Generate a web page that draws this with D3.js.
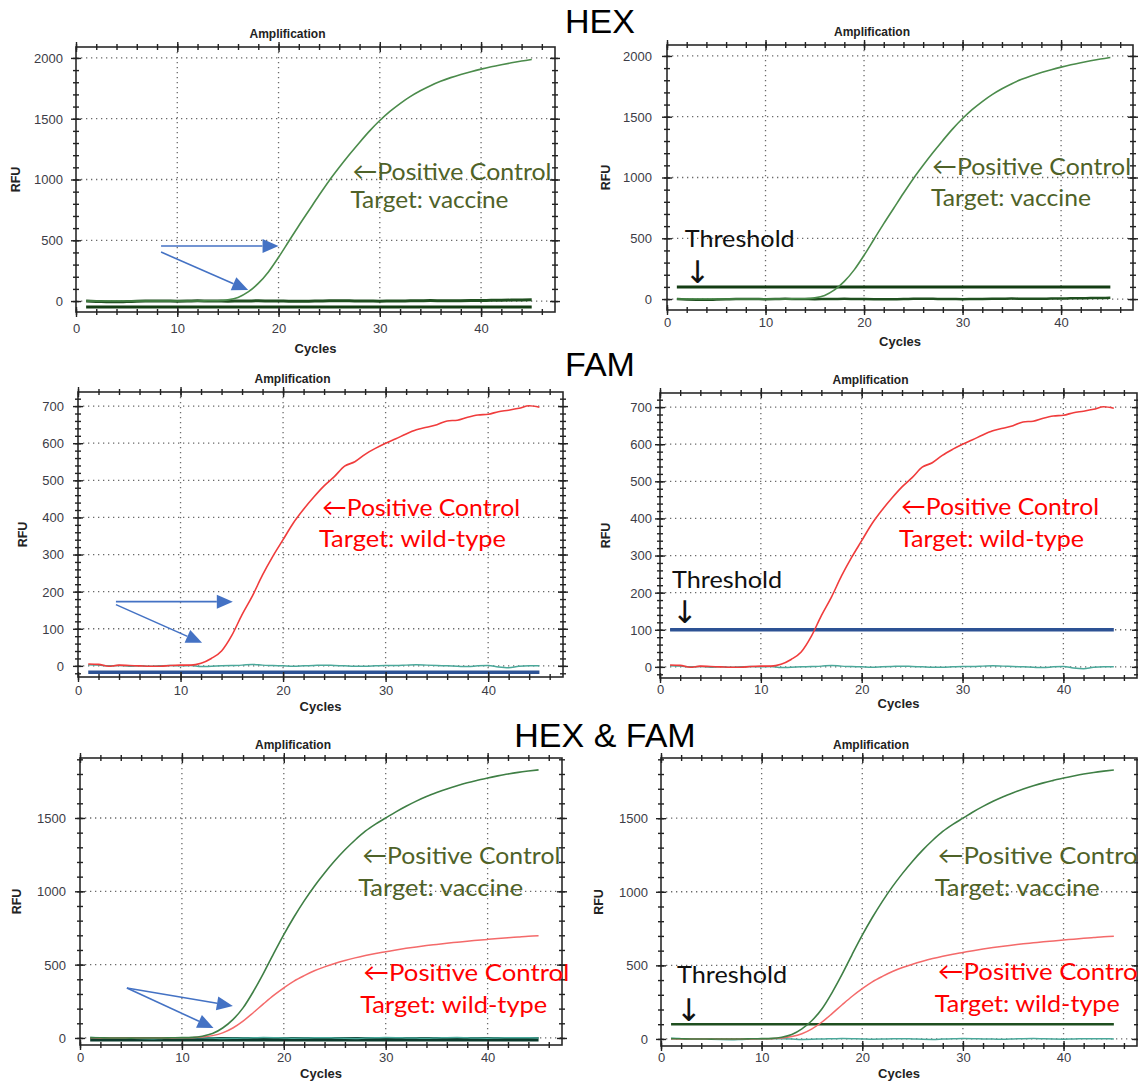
<!DOCTYPE html>
<html><head><meta charset="utf-8">
<script src="https://cdn.jsdelivr.net/npm/d3@7"></script>
<style>body{margin:0;background:#fff}svg{display:block}</style>
</head><body>
<svg id="chart" width="1138" height="1082"></svg>
<script>
// ---------------- DATA ----------------
const cycles = [1,2,3,4,5,6,7,8,9,10,11,12,13,14,15,16,17,18,19,20,21,22,23,24,25,26,27,28,29,30,31,32,33,34,35,36,37,38,39,40,41,42,43,44,45];
const xTicks = [0,10,20,30,40];
const hexYTicks = [0,500,1000,1500,2000];
const famYTicks = [0,100,200,300,400,500,600,700];
const duoYTicks = [0,500,1000,1500];
const headings = ["HEX","FAM","HEX & FAM"];

// HEX channel, positive control (target: vaccine)
const hexPositive = [0,0,0,0,0,0,0,0,1,1,1,1,2,3,10,30,75,145,240,360,490,620,745,870,990,1100,1205,1305,1400,1485,1560,1625,1682,1730,1772,1808,1838,1864,1887,1908,1927,1944,1960,1975,1988];
// HEX channel, negative samples
const hexNegative = [0,-3,-5,-6,-4,-2,0,1,0,-1,0,2,1,0,-1,0,1,2,1,0,-1,-2,-1,0,2,3,2,1,0,-1,0,1,2,3,4,3,2,3,4,5,6,7,8,9,10];
// FAM channel, positive control (target: wild-type)
const famPositive = [5,4,-1,2,1,0,-1,-1,1,2,2,7,20,40,82,138,188,245,295,340,385,422,455,485,510,538,550,570,586,600,612,625,636,643,650,660,662,670,676,678,685,689,694,701,697];
// FAM channel, negative samples
const famNegative = [3,2,0,1,-1,0,-1,0,1,0,1,-2,-1,0,1,2,4,2,1,0,-1,0,1,2,1,0,-1,-1,0,1,1,2,3,2,1,0,-1,-2,0,1,-3,-5,-1,0,0];
// HEX & FAM duplex
const duoVaccine = [2,1,0,0,-1,0,0,0,1,2,4,12,30,68,125,205,315,440,575,705,825,935,1035,1125,1208,1283,1350,1410,1458,1500,1542,1580,1615,1646,1673,1698,1720,1740,1757,1773,1787,1800,1811,1820,1828];
const duoWildType = [1,0,0,-1,0,0,-1,0,0,1,2,6,16,35,68,115,172,232,290,342,388,425,458,485,508,528,546,562,576,588,600,611,621,630,638,646,653,660,666,672,678,684,689,694,697];
const duoNegative = [4,2,1,0,-2,-4,-5,-3,-1,0,2,1,-1,-3,-2,0,1,3,2,0,-2,-1,1,2,0,-2,-3,-1,1,3,2,0,-1,-2,0,2,3,1,-1,-2,0,1,2,1,0];
// threshold levels [left panel, right panel]
const hexThreshold = [-48, 100];
const famThreshold = [-17, 100];
const duoThreshold = [-9, 100];

// ---------------- LAYOUT ----------------
const svg = d3.select("#chart");
const xDomain = [0, 47.3];
const TICK_FONT = "'Liberation Sans', Arial, sans-serif";
const ANN_FONT = "Lato, 'DejaVu Sans', sans-serif";
const C = {
  green:"#4b8b4b", green2:"#3f7f45", dkgreen:"#1f4f1f", dkgreen2:"#143d14",
  red:"#f03c3c", red2:"#f46a6a", teal:"#4aa89a", blue:"#2d5294",
  arrow:"#4472c4", txtGreen:"#4f6228", txtRed:"#ff0000"
};

const S = (values, color, width) => ({values, color, width});
const T = (level, color, width) => ({values: cycles.map(() => level), color, width});

const panels = [
  {L:76,R:555,T:47,B:312, yDom:[-90,2090], yTicks:hexYTicks, minorY:100, labGap:13, xlabDy:12, cycDy:41, rfuDx:-60,
   series:[S(hexNegative,C.dkgreen,3), T(hexThreshold[0],C.dkgreen2,3), S(hexPositive,C.green,1.6)],
   texts:[{t:"←Positive Control",x:27.3,y:996,c:C.txtGreen,w:199},{t:"Target: vaccine",x:27.1,y:765,c:C.txtGreen,w:158}],
   arrows:[[8.4,453,20.0,453],[8.4,403,17.0,90]]},
  {L:667,R:1133,T:45,B:310, yDom:[-90,2090], yTicks:hexYTicks, minorY:100, labGap:15, xlabDy:8, cycDy:36, rfuDx:-61,
   series:[S(hexNegative,C.dkgreen,2.5), T(hexThreshold[1],C.dkgreen2,3), S(hexPositive,C.green,1.6)],
   texts:[{t:"←Positive Control",x:26.9,y:1017,c:C.txtGreen,w:199},{t:"Target: vaccine",x:26.8,y:769,c:C.txtGreen,w:160},
          {t:"Threshold",x:1.8,y:430,c:"#111",w:110}],
   down:{x:1.8,y:135}, arrows:[]},
  {L:78,R:563,T:392,B:677, yDom:[-30,738], yTicks:famYTicks, minorY:20, labGap:14, xlabDy:9, cycDy:34, rfuDx:-55,
   series:[S(famNegative,C.teal,1.5), T(famThreshold[0],C.blue,3.5), S(famPositive,C.red,1.6)],
   texts:[{t:"←Positive Control",x:23.8,y:403,c:C.txtRed,w:198},{t:"Target: wild-type",x:23.5,y:319,c:C.txtRed,w:187}],
   arrows:[[3.7,173,15.1,173],[3.7,165,12.1,62]]},
  {L:660,R:1137,T:393,B:678, yDom:[-30,738], yTicks:famYTicks, minorY:20, labGap:8, xlabDy:7, cycDy:30, rfuDx:-54,
   series:[S(famNegative,C.teal,1.5), T(famThreshold[1],C.blue,3.5), S(famPositive,C.red,1.6)],
   texts:[{t:"←Positive Control",x:23.9,y:408,c:C.txtRed,w:198},{t:"Target: wild-type",x:23.7,y:323,c:C.txtRed,w:185},
          {t:"Threshold",x:1.2,y:213,c:"#111",w:110}],
   down:{x:1.2,y:118}, arrows:[]},
  {L:80,R:562,T:758,B:1045, yDom:[-48,1909], yTicks:duoYTicks, minorY:100, labGap:14, xlabDy:8, cycDy:33, rfuDx:-63,
   series:[T(duoThreshold[0],"#0d3a2c",4.5), S(duoNegative,C.teal,1.5), S(duoWildType,C.red2,1.5), S(duoVaccine,C.green2,1.6)],
   texts:[{t:"←Positive Control",x:27.7,y:1187,c:C.txtGreen,w:198},{t:"Target: vaccine",x:27.3,y:969,c:C.txtGreen,w:165},
          {t:"←Positive Control",x:27.8,y:389,c:C.txtRed,w:206},{t:"Target: wild-type",x:27.5,y:171,c:C.txtRed,w:187}],
   arrows:[[4.6,341,15.0,218],[4.6,341,13.1,68]]},
  {L:661,R:1137,T:758,B:1046, yDom:[-48,1909], yTicks:duoYTicks, minorY:100, labGap:13, xlabDy:7, cycDy:32, rfuDx:-62,
   series:[S(duoNegative,C.teal,1.5), T(duoThreshold[1],C.dkgreen,2.5), S(duoWildType,C.red2,1.5), S(duoVaccine,C.green2,1.6)],
   texts:[{t:"←Positive Control",x:27.5,y:1189,c:C.txtGreen,w:206},{t:"Target: vaccine",x:27.2,y:973,c:C.txtGreen,w:165},
          {t:"←Positive Control",x:27.5,y:399,c:C.txtRed,w:206},{t:"Target: wild-type",x:27.2,y:182,c:C.txtRed,w:185},
          {t:"Threshold",x:1.6,y:378,c:"#111",w:110}],
   down:{x:1.5,y:125}, arrows:[]}
];

const headingPos = [{x:600,y:33},{x:600,y:376},{x:605,y:747}];
headings.forEach((h,i) => {
  svg.append("text").attr("x",headingPos[i].x).attr("y",headingPos[i].y)
    .attr("text-anchor","middle").attr("font-family",TICK_FONT).attr("font-size",34)
    .attr("fill","#000").text(h);
});

function drawPanel(p) {
  const g = svg.append("g");
  const x = d3.scaleLinear().domain(xDomain).range([p.L, p.R]);
  const y = d3.scaleLinear().domain(p.yDom).range([p.B, p.T]);

  // dotted grid
  g.append("g").selectAll("line").data(xTicks.filter(v => v > 0)).join("line")
    .attr("x1", d => x(d)).attr("x2", d => x(d)).attr("y1", p.T).attr("y2", p.B)
    .attr("stroke","#6a6a6a").attr("stroke-width",1.3).attr("stroke-dasharray","1.3,3.7");
  g.append("g").selectAll("line").data(p.yTicks).join("line")
    .attr("x1", p.L).attr("x2", p.R).attr("y1", d => y(d)).attr("y2", d => y(d))
    .attr("stroke","#6a6a6a").attr("stroke-width",1.3).attr("stroke-dasharray","1.3,3.7");

  // series
  const clipId = "clip" + p.L + "_" + p.T;
  svg.append("clipPath").attr("id", clipId).append("rect")
    .attr("x", p.L).attr("y", p.T).attr("width", p.R - p.L).attr("height", p.B - p.T);
  const lg = g.append("g").attr("clip-path", `url(#${clipId})`);
  p.series.forEach(s => {
    const line = d3.line().x((d,i) => x(cycles[i])).y(d => y(d)).curve(d3.curveMonotoneX);
    lg.append("path").attr("d", line(s.values)).attr("fill","none")
      .attr("stroke", s.color).attr("stroke-width", s.width).attr("stroke-linejoin","round");
  });

  // frame
  g.append("rect").attr("x",p.L).attr("y",p.T).attr("width",p.R-p.L).attr("height",p.B-p.T)
    .attr("fill","none").attr("stroke","#2a2a2a").attr("stroke-width",1.6);

  // axes
  const minorX = d3.range(0, xDomain[1], 2);
  const minorYv = d3.range(Math.ceil(p.yDom[0]/p.minorY)*p.minorY, p.yDom[1], p.minorY);
  function crossTicks(sel, horiz, len) {
    sel.select(".domain").remove();
    sel.selectAll(".tick line").attr("stroke","#222").attr("stroke-width",1.4)
      .each(function(){
        const l = d3.select(this);
        if (horiz) l.attr("y1",-len).attr("y2",len); else l.attr("x1",-len).attr("x2",len);
      });
  }
  const bm = g.append("g").attr("transform",`translate(0,${p.B})`)
    .call(d3.axisBottom(x).tickValues(minorX).tickFormat("").tickSize(3));
  crossTicks(bm, true, 3);
  const bM = g.append("g").attr("transform",`translate(0,${p.B})`)
    .call(d3.axisBottom(x).tickValues(xTicks).tickSize(5).tickFormat(d3.format("d")));
  crossTicks(bM, true, 5);
  bM.selectAll(".tick text").attr("y", p.xlabDy).attr("dy","0.71em")
    .attr("font-family",TICK_FONT).attr("font-size",13).attr("fill","#3c3c46");
  const tm = g.append("g").attr("transform",`translate(0,${p.T})`)
    .call(d3.axisTop(x).tickValues(minorX).tickFormat("").tickSize(3));
  crossTicks(tm, true, 3);
  const tM = g.append("g").attr("transform",`translate(0,${p.T})`)
    .call(d3.axisTop(x).tickValues(xTicks).tickFormat("").tickSize(5));
  crossTicks(tM, true, 5);
  const lm = g.append("g").attr("transform",`translate(${p.L},0)`)
    .call(d3.axisLeft(y).tickValues(minorYv).tickFormat("").tickSize(3));
  crossTicks(lm, false, 3);
  const lM = g.append("g").attr("transform",`translate(${p.L},0)`)
    .call(d3.axisLeft(y).tickValues(p.yTicks).tickSize(5).tickFormat(d3.format("d")));
  crossTicks(lM, false, 5);
  lM.selectAll(".tick text").attr("x", -p.labGap).attr("dy","0.34em")
    .attr("font-family",TICK_FONT).attr("font-size",13).attr("fill","#3c3c46");
  const rm = g.append("g").attr("transform",`translate(${p.R},0)`)
    .call(d3.axisRight(y).tickValues(minorYv).tickFormat("").tickSize(3));
  crossTicks(rm, false, 3);
  const rM = g.append("g").attr("transform",`translate(${p.R},0)`)
    .call(d3.axisRight(y).tickValues(p.yTicks).tickFormat("").tickSize(5));
  crossTicks(rM, false, 5);

  // titles
  const cx = (p.L + p.R) / 2;
  g.append("text").attr("x", cx - 28).attr("y", p.T - 9).attr("text-anchor","middle")
    .attr("font-family",TICK_FONT).attr("font-weight","bold").attr("font-size",12).attr("fill","#222")
    .text("Amplification");
  g.append("text").attr("x", cx).attr("y", p.B + p.cycDy).attr("text-anchor","middle")
    .attr("font-family",TICK_FONT).attr("font-weight","bold").attr("font-size",13).attr("fill","#222")
    .text("Cycles");
  const ry = (p.T + p.B) / 2;
  g.append("text").attr("transform",`translate(${p.L + p.rfuDx + 4},${ry}) rotate(-90)`)
    .attr("text-anchor","middle").attr("font-family",TICK_FONT).attr("font-weight","bold")
    .attr("font-size",12.5).attr("fill","#222").text("RFU");

  // blue annotation arrows
  p.arrows.forEach(a => {
    const x1 = x(a[0]), y1 = y(a[1]), x2 = x(a[2]), y2 = y(a[3]);
    const ang = Math.atan2(y2 - y1, x2 - x1), len = 16, hw = 7;
    const bx = x2 - len * Math.cos(ang), by = y2 - len * Math.sin(ang);
    g.append("line").attr("x1",x1).attr("y1",y1).attr("x2",bx).attr("y2",by)
      .attr("stroke",C.arrow).attr("stroke-width",1.6);
    const px = -Math.sin(ang) * hw, py = Math.cos(ang) * hw;
    g.append("path").attr("d",`M${x2},${y2}L${bx+px},${by+py}L${bx-px},${by-py}Z`).attr("fill",C.arrow);
  });

  // text annotations
  p.texts.forEach(t => {
    g.append("text").attr("x", x(t.x)).attr("y", y(t.y))
      .attr("font-family",ANN_FONT).attr("font-size",24).attr("fill",t.c)
      .attr("textLength", t.w).attr("lengthAdjust","spacingAndGlyphs").text(t.t);
  });
  if (p.down) {
    g.append("text").attr("x", x(p.down.x)).attr("y", y(p.down.y))
      .attr("font-family","'DejaVu Sans', sans-serif").attr("font-size",31).attr("fill","#111").text("↓");
  }
}
panels.forEach(drawPanel);
</script>
</body></html>
